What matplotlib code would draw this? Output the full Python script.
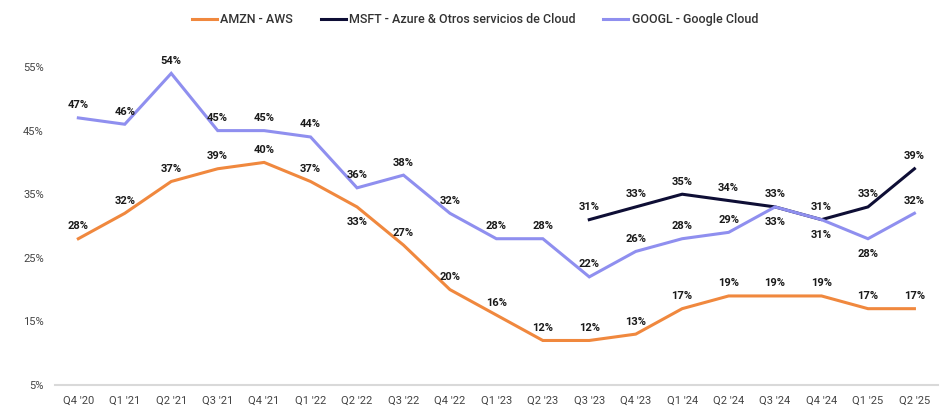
import numpy as np
from matplotlib import pyplot as plt

quarters = ["Q4 '20", "Q1 '21", "Q2 '21", "Q3 '21", "Q4 '21", "Q1 '22", "Q2 '22", "Q3 '22",
            "Q4 '22", "Q1 '23", "Q2 '23", "Q3 '23", "Q4 '23", "Q1 '24", "Q2 '24", "Q3 '24",
            "Q4 '24", "Q1 '25", "Q2 '25"]
amzn = [28, 32, 37, 39, 40, 37, 33, 27, 20, 16, 12, 12, 13, 17, 19, 19, 19, 17, 17]
msft = [None] * 11 + [31, 33, 35, 34, 33, 31, 33, 39]
googl = [47, 46, 54, 45, 45, 44, 36, 38, 32, 28, 28, 22, 26, 28, 29, 33, 31, 28, 32]
yticks = [5, 15, 25, 35, 45, 55]

# etiquetas que van debajo del punto
below = {("AMZN", 6), ("GOOGL", 15), ("GOOGL", 16), ("GOOGL", 17)}

plt.rcParams['font.family'] = ['Roboto', 'DejaVu Sans']

fig = plt.figure(figsize=(9.5, 4.09), dpi=100)
ax = fig.add_axes([0.058, 0.0587, 0.929, 0.807])

x = np.arange(len(quarters))
series = [
    ("AMZN", "AMZN - AWS", amzn, "#F0883E"),
    ("MSFT", "MSFT - Azure & Otros servicios de Cloud", msft, "#0E0E35"),
    ("GOOGL", "GOOGL - Google Cloud", googl, "#8F8FEF"),
]
for key, name, vals, color in series:
    v = np.array([np.nan if a is None else a for a in vals], dtype=float)
    ax.plot(x, v, color=color, lw=2.2, label=name, solid_joinstyle='miter')
    for i, val in enumerate(vals):
        if val is None:
            continue
        dy = -11 if (key, i) in below else 9
        ax.annotate(f"{val}%", (i, val), xytext=(0, dy), textcoords='offset points',
                    ha='center', va='center', fontsize=8, fontweight='bold', color='#1a1a1a')

ax.set_xlim(-0.5, len(quarters) - 0.5)
ax.set_ylim(5, 56.9)
ax.set_xticks(x)
ax.set_xticklabels(quarters, fontsize=8, color='#444444')
ax.set_yticks(yticks)
ax.set_yticklabels([f"{t}%" for t in yticks], fontsize=8, color='#444444')
ax.tick_params(length=0, pad=8)
for s in ['top', 'right', 'left']:
    ax.spines[s].set_visible(False)
ax.spines['bottom'].set_color('#d9d9d9')
ax.spines['bottom'].set_linewidth(1.5)

fig.legend(loc='upper center', bbox_to_anchor=(0.5, 0.995), ncol=3, frameon=False,
           prop={'size': 9, 'weight': 'medium'}, handlelength=2.0, handletextpad=0.3,
           columnspacing=2.2, labelcolor='#333333')

fig.savefig('out.png', dpi=100)
